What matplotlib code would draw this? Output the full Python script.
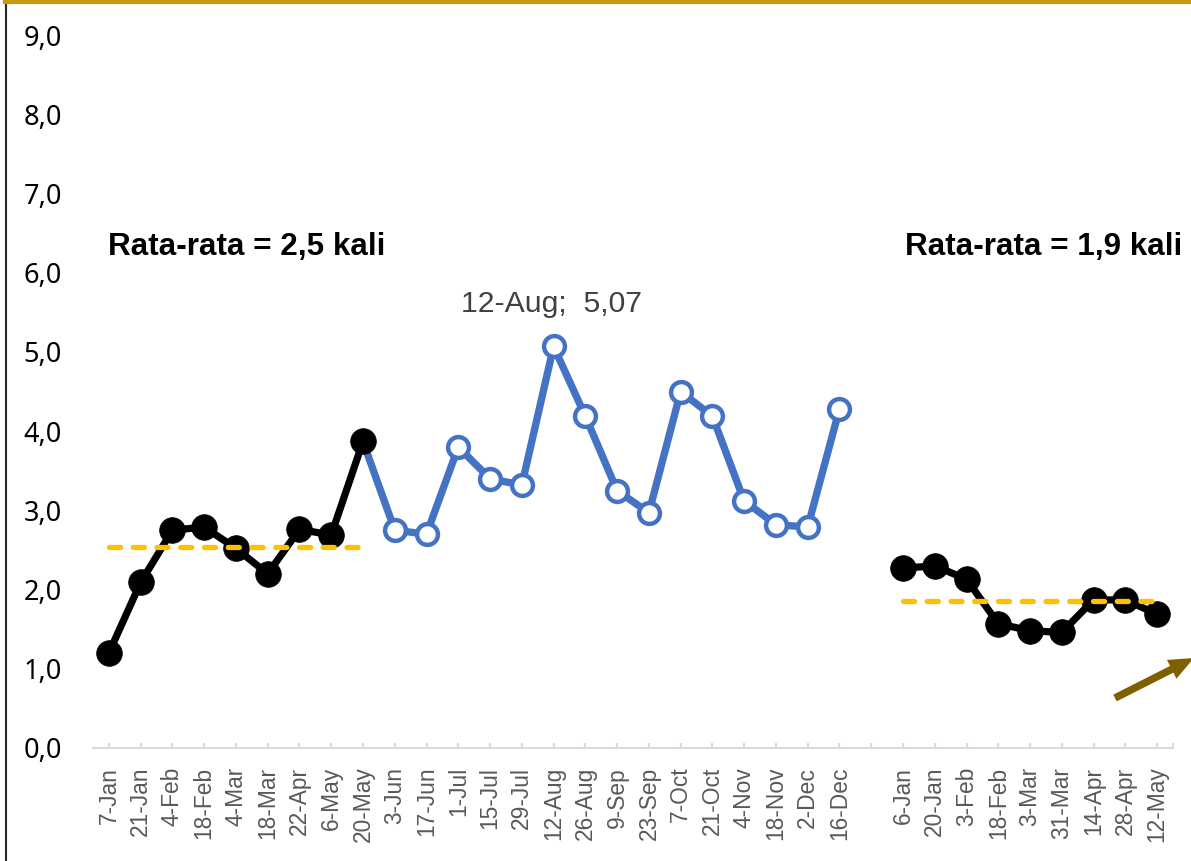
import numpy as np
import matplotlib
matplotlib.use("Agg")
import matplotlib.pyplot as plt
from matplotlib.lines import Line2D
from matplotlib.patches import FancyArrow

# ---------------- data ----------------
labels_2019 = ["7-Jan", "21-Jan", "4-Feb", "18-Feb", "4-Mar", "18-Mar", "22-Apr", "6-May",
               "20-May", "3-Jun", "17-Jun", "1-Jul", "15-Jul", "29-Jul", "12-Aug", "26-Aug",
               "9-Sep", "23-Sep", "7-Oct", "21-Oct", "4-Nov", "18-Nov", "2-Dec", "16-Dec"]
labels_2020 = ["6-Jan", "20-Jan", "3-Feb", "18-Feb", "3-Mar", "31-Mar", "14-Apr", "28-Apr", "12-May"]

# first period (black, filled markers): 7-Jan .. 20-May
black_a = [1.20, 2.09, 2.75, 2.79, 2.52, 2.20, 2.76, 2.69, 3.87]
# middle period (blue, open markers): 20-May .. 16-Dec
blue_b = [3.87, 2.75, 2.70, 3.80, 3.40, 3.32, 5.07, 4.19, 3.25, 2.97, 4.50, 4.19, 3.12,
          2.82, 2.79, 4.28]
# last period (black, filled markers): 6-Jan .. 12-May
black_c = [2.27, 2.30, 2.13, 1.57, 1.48, 1.46, 1.87, 1.87, 1.69]

avg_first = 2.54
avg_last = 1.86

peak_label = "12-Aug"
peak_value = 5.07

yticks = [0, 1, 2, 3, 4, 5, 6, 7, 8, 9]

# ---------------- layout ----------------
categories = labels_2019 + [""] + labels_2020
n = len(categories)
x_all = np.arange(n)
x_a = x_all[:len(black_a)]
x_b = x_all[len(black_a) - 1:len(labels_2019)]
x_c = x_all[len(labels_2019) + 1:]

W, H, DPI = 1191, 861, 100
fig = plt.figure(figsize=(W / DPI, H / DPI), dpi=DPI)
fig.patch.set_facecolor("white")

ax_left, ax_right = 93 / W, 1173 / W
ax_bottom, ax_top = (H - 748) / H, (H - (748 - 9 * 79.2)) / H
ax = fig.add_axes([ax_left, ax_bottom, ax_right - ax_left, ax_top - ax_bottom])

BLUE = "#4472C4"
GOLD = "#FFC000"

# blue middle segment
ax.plot(x_b, blue_b, color=BLUE, lw=5.3, solid_capstyle="round", solid_joinstyle="round",
        zorder=2)
ax.plot(x_b[1:], blue_b[1:], linestyle="none", marker="o", ms=15, mfc="white",
        mec=BLUE, mew=3.2, zorder=2.5)

# black segments
for xs, ys in [(x_a, black_a), (x_c, black_c)]:
    ax.plot(xs, ys, color="black", lw=5.2, marker="o", ms=18.5, mfc="black", mec="black",
            mew=0.5, solid_joinstyle="round", zorder=3)

# average dashed lines
for xs, avg in [(x_a, avg_first), (x_c, avg_last)]:
    ax.plot([xs[0], xs[-1]], [avg, avg], color=GOLD, lw=3.8, dashes=(2.1, 2.4),
            dash_capstyle="round", zorder=4)

# average texts
ax.text(-0.03, 6.22, f"Rata-rata = {avg_first:.1f} kali".replace(".", ","),
        family="Liberation Sans", fontweight="bold", fontsize=22.6, color="black",
        ha="left", va="baseline")
ax.text(33.78, 6.22, f"Rata-rata = {avg_last:.1f} kali".replace(".", ","),
        family="Liberation Sans", fontweight="bold", fontsize=22.6, color="black",
        ha="right", va="baseline")

# peak annotation
peak_idx = categories.index(peak_label)
ax.annotate(f"{peak_label};  {peak_value:.2f}".replace(".", ","),
            xy=(peak_idx, peak_value), xytext=(-1.5, 24.7), textcoords="offset points",
            ha="center", va="baseline", family="Liberation Sans", fontsize=21.7,
            color="#404040")

# axes styling
ax.set_xlim(-0.5, n - 0.5)
ax.set_ylim(0, 9)
for s in ["top", "right", "left"]:
    ax.spines[s].set_visible(False)
ax.spines["bottom"].set_color("#D9D9D9")
ax.spines["bottom"].set_linewidth(1.5)

ax.set_xticks(list(x_all) + [n - 0.5])
ax.set_xticklabels(categories + [""], rotation=90, family="Liberation Sans",
                   fontsize=16.4, color="#595959")
ax.tick_params(axis="x", direction="in", length=3.8, width=1.5, color="#D9D9D9", pad=13.5)

ax.set_yticks(yticks)
ax.set_yticklabels([f"{v:.1f}".replace(".", ",") for v in yticks], family="Noto Sans",
                   fontsize=19.5, color="black")
ax.tick_params(axis="y", length=0, pad=22.3)

# frame decorations (figure pixels -> inches)
fig.add_artist(Line2D([5.5 / DPI, 5.5 / DPI], [0, H / DPI], transform=fig.dpi_scale_trans,
                      color="#262626", lw=1.5))
fig.add_artist(Line2D([5 / DPI, W / DPI], [(H - 1.8) / DPI, (H - 1.8) / DPI],
                      transform=fig.dpi_scale_trans, color="#C39A0B", lw=3.0))

# arrow
tail = (1115, H - 698)
tip = (1194, H - 658)
fig.add_artist(FancyArrow(tail[0] / DPI, tail[1] / DPI, (tip[0] - tail[0]) / DPI,
                          (tip[1] - tail[1]) / DPI, width=7.5 / DPI, head_width=21 / DPI,
                          head_length=25 / DPI, length_includes_head=True,
                          transform=fig.dpi_scale_trans, color="#7F6000", lw=0))

fig.savefig("out.png", dpi=DPI, facecolor="white")
